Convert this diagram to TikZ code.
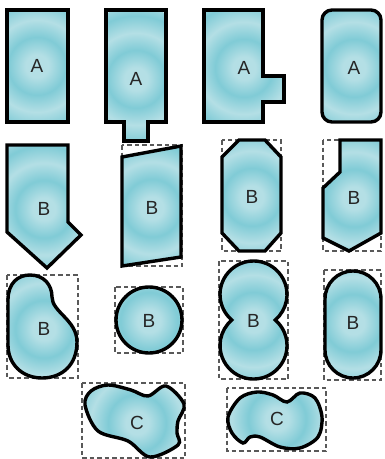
\documentclass[tikz,border=0pt]{standalone}
\usepackage{fontspec}
\setmainfont{Liberation Sans}
\usetikzlibrary{calc}
\definecolor{ringlight}{HTML}{B4DFE5}
\definecolor{ringdark}{HTML}{80CBD6}
\pgfdeclareradialshading{rings}{\pgfpoint{0bp}{0bp}}{%
color(0bp)=(ringlight); color(4bp)=(ringlight); color(10bp)=(ringdark);
color(16bp)=(ringlight); color(22bp)=(ringdark); color(28bp)=(ringlight);
color(34bp)=(ringdark); color(40bp)=(ringlight); color(46bp)=(ringdark);
color(50bp)=(ringlight)}
\newcommand\shapefill[2]{%
  \begin{scope}\clip #1;\shade[shading=rings] (#2) circle[radius=72];\end{scope}
  \draw[outline] #1;}
\tikzset{
  outline/.style={line width=3.4pt, line join=miter, draw=black},
  guide/.style={draw=black!65, line width=1.3pt, dash pattern=on 4.5pt off 3pt},
  lbl/.style={font=\fontsize{19}{19}\selectfont, text=black!85, inner sep=0pt}
}
\begin{document}
\begin{tikzpicture}[x=1pt,y=-1pt]
\useasboundingbox[fill=white] (0,0) rectangle (384,459);
% label centres
\coordinate (c1) at (37,66);
\coordinate (c2) at (136,79);
\coordinate (c3) at (244,68);
\coordinate (c4) at (354,68);
\coordinate (c5) at (44,209);
\coordinate (c6) at (152,208);
\coordinate (c7) at (252,197);
\coordinate (c8) at (354,198);
\coordinate (c9) at (44,329);
\coordinate (c10) at (149,321);
\coordinate (c11) at (253.5,321);
\coordinate (c12) at (353,323);
\coordinate (c13) at (137,423);
\coordinate (c14) at (277,419);
% dashed guide boxes
\draw[guide] (122,145) rectangle (182,266);
\draw[guide] (222,140) rectangle (281,251);
\draw[guide] (323,140) rectangle (381,251);
\draw[guide] (7,275) rectangle (78,378);
\draw[guide] (115,287) rectangle (183,353);
\draw[guide] (219,261) rectangle (288,379);
\draw[guide] (324,270) rectangle (381,380);
\draw[guide] (82,383) rectangle (185,458);
\draw[guide] (227,388) rectangle (326,451);
% row 1
\shapefill{(7,10) rectangle (68,122)}{c1}
\shapefill{(106,10) -- (166,10) -- (166,122) -- (148,122) -- (148,141) -- (124,141) -- (124,122) -- (106,122) -- cycle}{c2}
\shapefill{(204,10) -- (263,10) -- (263,76) -- (284,76) -- (284,102) -- (263,102) -- (263,122) -- (204,122) -- cycle}{c3}
\shapefill{[rounded corners=10pt] (322,10) rectangle (381,122)}{c4}
% row 2
\shapefill{(7,145) -- (68,145) -- (68,222) -- (81,235) -- (47,268) -- (7,232) -- cycle}{c5}
\shapefill{(122,157) -- (181,146) -- (181,257) -- (122,266) -- cycle}{c6}
\shapefill{(239,140) -- (265,140) -- (281,157) -- (281,233) -- (265,251) -- (239,251) -- (222,233) -- (222,157) -- cycle}{c7}
\shapefill{(340,140) -- (381,140) -- (381,233) -- (349,251) -- (323,238) -- (323,188) -- (340,172) -- cycle}{c8}
% row 3
\shapefill{(8,300) .. controls (8,283) and (18,275) .. (30,275) .. controls (44,275) and (52,285) .. (52,297) .. controls (52,312) and (77,320) .. (77,342) .. controls (77,365) and (62,378) .. (42,378) .. controls (22,378) and (8,364) .. (8,345) -- cycle}{c9}
\shapefill{(149,320) circle[radius=33]}{c10}
\shapefill{(231.8,320) arc[start angle=130.4, end angle=409.6, radius=33.5] arc[start angle=-49.6, end angle=229.6, radius=33.5] -- cycle}{c11}
\shapefill{[rounded corners=28pt] (325,271) rectangle (381,378)}{c12}
% row 4
\shapefill{plot[smooth cycle, tension=0.55] coordinates {(85,405) (91,391) (108,385) (131,390) (148,396) (166,386) (184,404) (178,421) (177,433) (178,445) (150,457) (128,441) (98,431)}}{c13}
\shapefill{plot[smooth cycle, tension=0.55] coordinates {(228,417) (240,398) (257,392) (273,395) (287,402) (300,393) (315,398) (322,417) (318,437) (300,448) (280,447) (260,437) (250,437) (243,443) (232,433)}}{c14}
% labels
\node[lbl] (lA1) at (c1) {A};
\node[lbl] (lA2) at (c2) {A};
\node[lbl] (lA3) at (c3) {A};
\node[lbl] (lA4) at (c4) {A};
\node[lbl] (lB1) at (c5) {B};
\node[lbl] (lB2) at (c6) {B};
\node[lbl] (lB3) at (c7) {B};
\node[lbl] (lB4) at (c8) {B};
\node[lbl] (lB5) at (c9) {B};
\node[lbl] (lB6) at (c10) {B};
\node[lbl] (lB7) at (c11) {B};
\node[lbl] (lB8) at (c12) {B};
\node[lbl] (lC1) at (c13) {C};
\node[lbl] (lC2) at (c14) {C};
\end{tikzpicture}
\end{document}
